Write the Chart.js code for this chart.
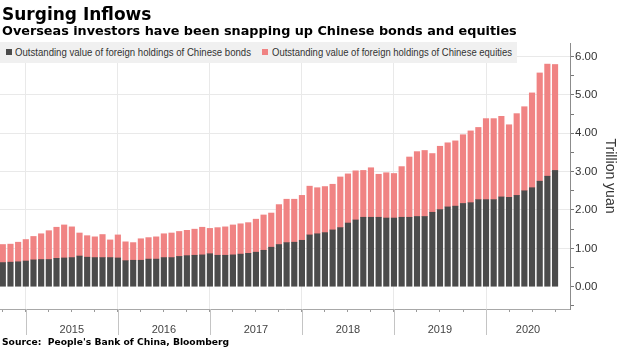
<!DOCTYPE html>
<html>
<head>
<meta charset="utf-8">
<script src="https://cdn.jsdelivr.net/npm/chart.js@4.4.1/dist/chart.umd.min.js"></script>
<style>
  html, body { margin: 0; padding: 0; background: #fff; }
  #frame { position: relative; width: 620px; height: 348px; overflow: hidden; background: #fff; }
  #c { position: absolute; left: 0; top: 0; }
  .hd { position: absolute; left: 2px; white-space: nowrap; font-family: "DejaVu Sans", sans-serif; font-weight: bold; color: #000; }
  #title { top: 5.6px; font-size: 17px; line-height: 17px; }
  #subtitle { top: 24px; font-size: 12.8px; line-height: 13px; }
  #source { top: 337.2px; font-size: 9.2px; line-height: 9.2px; }
  #legend { position: absolute; left: 0; top: 42px; width: 517px; height: 21px; background: #f0f0f0; }
  .item { position: absolute; top: 0; height: 21px; line-height: 21px; white-space: nowrap; transform-origin: left center;
          font-family: "Liberation Sans", Arial, sans-serif; font-size: 10.5px; color: #333; }
  .sw { position: absolute; top: 7px; width: 6px; height: 6px; }
</style>
</head>
<body>
<div id="frame">
  <canvas id="c" width="620" height="348"></canvas>
  <div id="legend">
    <span class="sw" style="left:6px;background:#4b4b4b"></span>
    <span class="item" id="lg0" style="left:15px"></span>
    <span class="sw" style="left:262px;background:#f08383"></span>
    <span class="item" id="lg1" style="left:272px"></span>
  </div>
  <div class="hd" id="title">Surging Inflows</div>
  <div class="hd" id="subtitle">Overseas investors have been snapping up Chinese bonds and equities</div>
  <div class="hd" id="source">Source:&nbsp; People's Bank of China, Bloomberg</div>
</div>
<script>
// Month-end observations
const months = [
  '2014-09','2014-10','2014-11','2014-12',
  '2015-01','2015-02','2015-03','2015-04','2015-05','2015-06','2015-07','2015-08','2015-09','2015-10','2015-11','2015-12',
  '2016-01','2016-02','2016-03','2016-04','2016-05','2016-06','2016-07','2016-08','2016-09','2016-10','2016-11','2016-12',
  '2017-01','2017-02','2017-03','2017-04','2017-05','2017-06','2017-07','2017-08','2017-09','2017-10','2017-11','2017-12',
  '2018-01','2018-02','2018-03','2018-04','2018-05','2018-06','2018-07','2018-08','2018-09','2018-10','2018-11','2018-12',
  '2019-01','2019-02','2019-03','2019-04','2019-05','2019-06','2019-07','2019-08','2019-09','2019-10','2019-11','2019-12',
  '2020-01','2020-02','2020-03','2020-04','2020-05','2020-06','2020-07','2020-08','2020-09'
];

// Trillion yuan
const bonds = [
  0.63,0.64,0.65,0.67,0.70,0.71,0.71,0.74,0.75,0.76,
  0.80,0.77,0.76,0.76,0.76,0.75,0.68,0.69,0.69,0.72,
  0.72,0.76,0.76,0.79,0.81,0.82,0.83,0.86,0.82,0.82,
  0.83,0.85,0.87,0.90,0.95,1.03,1.10,1.15,1.16,1.21,
  1.35,1.38,1.41,1.48,1.54,1.66,1.74,1.81,1.81,1.81,
  1.79,1.79,1.81,1.81,1.83,1.83,1.94,2.01,2.08,2.10,
  2.17,2.19,2.27,2.27,2.27,2.34,2.33,2.38,2.50,2.58,
  2.75,2.88,3.03
];
const equities = [
  0.47,0.47,0.51,0.56,0.61,0.67,0.75,0.81,0.86,0.80,
  0.60,0.56,0.54,0.60,0.46,0.60,0.49,0.46,0.56,0.56,
  0.58,0.62,0.64,0.65,0.66,0.68,0.72,0.66,0.72,0.74,
  0.78,0.79,0.80,0.86,0.92,0.89,1.04,1.13,1.12,1.17,
  1.27,1.20,1.20,1.19,1.32,1.28,1.28,1.22,1.29,1.12,
  1.18,1.16,1.32,1.57,1.69,1.72,1.53,1.65,1.67,1.70,
  1.79,1.87,1.88,2.11,2.11,2.10,1.89,2.13,2.19,2.47,
  2.82,2.92,2.76
];

const seriesNames = [
  'Outstanding value of foreign holdings of Chinese bonds',
  'Outstanding value of foreign holdings of Chinese equities'
];
const seriesColors = ['#4b4b4b', '#f08383'];

const yearLabels = ['2015', '2016', '2017', '2018', '2019', '2020'];
const yTickValues = [-0.5, 0, 0.5, 1, 1.5, 2, 2.5, 3, 3.5, 4, 4.5, 5, 5.5, 6];

// legend text, squeezed to the narrow width of the chart's house font
function setLegendText(id, text, width) {
  const el = document.getElementById(id);
  el.textContent = text;
  const natural = el.getBoundingClientRect().width;
  el.style.transform = 'scaleX(' + (width / natural) + ')';
}
setLegendText('lg0', seriesNames[0], 236);
setLegendText('lg1', seriesNames[1], 240);

// x axis runs on month index; a little of the first and last month is cut off
const X_MIN = -0.365, X_MAX = 73.95;
const Y_MIN = -0.58, Y_MAX = 6.35;

// year boundaries sit on each December bar, quarterly ticks on every third month
const separators = yearLabels.map(y => months.indexOf((+y - 1) + '-12'));
const quarterTicks = months.map((m, i) => i).filter(i => i % 3 === 0);
const labelPos = separators.map(s => (s + Math.min(s + 12, X_MAX)) / 2);

const toPoints = arr => arr.map((v, i) => ({ x: i, y: v }));

const yearSeparatorLines = {
  id: 'yearSeparatorLines',
  afterDraw(chart) {
    const xs = chart.scales.x, ctx = chart.ctx;
    ctx.save();
    ctx.strokeStyle = '#c4c4c4';
    ctx.lineWidth = 1;
    separators.forEach(v => {
      const px = Math.round(xs.getPixelForValue(v)) + 0.5;
      ctx.beginPath();
      ctx.moveTo(px, xs.top);
      ctx.lineTo(px, xs.top + 26);
      ctx.stroke();
    });
    ctx.restore();
  }
};

new Chart(document.getElementById('c'), {
  type: 'bar',
  data: {
    datasets: [
      { label: seriesNames[0], data: toPoints(bonds), backgroundColor: seriesColors[0] },
      { label: seriesNames[1], data: toPoints(equities), backgroundColor: seriesColors[1] }
    ]
  },
  options: {
    responsive: false,
    animation: false,
    layout: { padding: { top: 43, left: 0, right: 0, bottom: 0 } },
    datasets: { bar: { barThickness: 5.5, borderWidth: 0 } },
    plugins: { legend: { display: false }, tooltip: { enabled: false } },
    scales: {
      x: {
        type: 'linear',
        stacked: true,
        offset: false,
        min: X_MIN,
        max: X_MAX,
        afterBuildTicks(scale) {
          const vals = Array.from(new Set(quarterTicks.concat(labelPos))).sort((a, b) => a - b);
          scale.ticks = vals.map(v => ({ value: v }));
        },
        afterFit(scale) {
          scale.height = 39;
          scale.paddingLeft = 0;
          scale.paddingRight = 0;
        },
        border: { color: '#a8a8a8', width: 1 },
        grid: {
          offset: false,
          drawOnChartArea: true,
          color: ctx => separators.includes(ctx.tick && ctx.tick.value) ? '#e9e9e9' : 'rgba(0,0,0,0)',
          tickColor: ctx => quarterTicks.includes(ctx.tick && ctx.tick.value) ? '#9a9a9a' : 'rgba(0,0,0,0)',
          tickLength: 3
        },
        ticks: {
          autoSkip: false,
          maxRotation: 0,
          padding: 11,
          color: '#444',
          font: { family: '"Liberation Sans", Arial, sans-serif', size: 11 },
          callback: v => {
            const k = labelPos.indexOf(v);
            return k >= 0 ? yearLabels[k] : '';
          }
        }
      },
      y: {
        position: 'right',
        stacked: true,
        min: Y_MIN,
        max: Y_MAX,
        afterBuildTicks(scale) { scale.ticks = yTickValues.map(v => ({ value: v })); },
        afterFit(scale) { scale.width = 50; },
        border: { color: '#8c8c8c', width: 1 },
        grid: {
          color: ctx => (ctx.tick && Number.isInteger(ctx.tick.value) && ctx.tick.value > 0) ? '#e9e9e9' : 'rgba(0,0,0,0)',
          tickColor: '#777',
          tickLength: 4
        },
        ticks: {
          autoSkip: false,
          padding: 1,
          color: '#333',
          font: { family: '"Liberation Sans", Arial, sans-serif', size: 11.5 },
          callback: v => Number.isInteger(v) ? v.toFixed(2) : ''
        },
        title: {
          display: true,
          text: 'Trillion yuan',
          color: '#333',
          font: { family: '"Liberation Sans", Arial, sans-serif', size: 14 },
          padding: { top: 2, bottom: 0 }
        }
      }
    }
  },
  plugins: [yearSeparatorLines]
});
</script>
</body>
</html>
